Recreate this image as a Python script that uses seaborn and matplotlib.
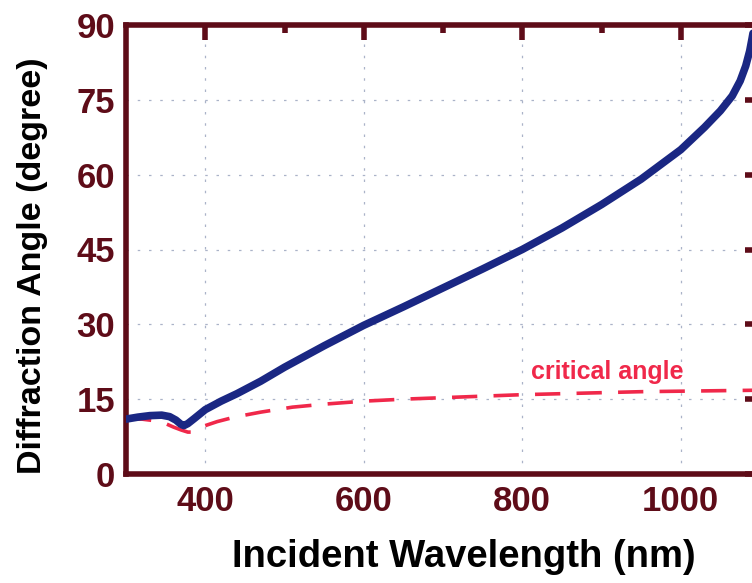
import numpy as np
import pandas as pd
import seaborn as sns
import matplotlib.pyplot as plt

# wavelength (nm) and diffraction angle (degree)
wl_blue = [300, 315, 330, 345, 355, 363, 369, 373, 378, 386, 400, 420, 440, 470, 500, 550,
           600, 650, 700, 750, 800, 850, 900, 950, 1000, 1030, 1050, 1065, 1075, 1082, 1087,
           1090, 1093]
ang_blue = [11.0, 11.4, 11.7, 11.8, 11.5, 10.8, 10.0, 9.7, 10.1, 11.1, 12.9, 14.6, 16.1,
            18.6, 21.4, 25.7, 29.8, 33.5, 37.3, 41.1, 45.0, 49.3, 54.0, 59.1, 65.0, 69.5,
            72.8, 75.8, 78.8, 81.8, 84.8, 87.3, 90.0]

wl_red = [300, 320, 340, 350, 360, 370, 378, 385, 392, 400, 415, 432, 450, 470, 510, 550,
          600, 650, 700, 750, 800, 850, 900, 950, 1000, 1050, 1100]
ang_red = [11.0, 11.0, 10.6, 10.1, 9.4, 8.8, 8.4, 8.4, 8.9, 9.7, 10.5, 11.2, 11.8, 12.4,
           13.4, 14.0, 14.6, 15.0, 15.3, 15.6, 15.9, 16.1, 16.3, 16.5, 16.6, 16.7, 16.8]

x_ticks = [400, 600, 800, 1000]
y_ticks = [0, 15, 30, 45, 60, 75, 90]

maroon = "#5e0c18"
sns.set_style("white")
plt.rcParams['font.family'] = ['Liberation Sans', 'DejaVu Sans']
plt.rcParams['font.weight'] = 'bold'

fig = plt.figure(figsize=(7.52, 5.83), dpi=100)
ax = fig.add_axes([126 / 752, 109 / 583, 634 / 752, 449 / 583])

blue = pd.DataFrame({"wl": wl_blue, "ang": ang_blue})
red = pd.DataFrame({"wl": wl_red, "ang": ang_red})

sns.lineplot(data=red, x="wl", y="ang", ax=ax, color="#f0284a", lw=2.6,
             estimator=None, sort=False, zorder=3)
ax.lines[-1].set_dashes([7, 4.5])
sns.lineplot(data=blue, x="wl", y="ang", ax=ax, color="#1a2783", lw=5.5,
             estimator=None, sort=False, zorder=4)
ax.lines[-1].set_solid_joinstyle("round")
ax.lines[-1].set_solid_capstyle("round")

ax.set_xlim(300, 1100)
ax.set_ylim(0, 90)
ax.set_xticks(x_ticks)
ax.set_yticks(y_ticks)
ax.set_xticks([500, 700, 900], minor=True)
ax.set_yticks([7.5, 22.5, 37.5, 52.5, 67.5, 82.5], minor=True)

ax.grid(True, which="major", color="#aab3c8", linestyle=(0, (2, 7)), linewidth=0.9)

for s in ax.spines.values():
    s.set_color(maroon)
    s.set_linewidth(4)

ax.tick_params(axis="both", which="major", direction="in", length=11, width=4,
               color=maroon, labelcolor=maroon, labelsize=25, pad=8,
               top=True, right=True)
ax.tick_params(axis="both", which="minor", direction="in", length=6, width=4,
               color=maroon, top=True, right=True)
for lab in ax.get_xticklabels() + ax.get_yticklabels():
    lab.set_fontweight("bold")

# label positions given in pixels of the 752x583 picture
ax.set_xlabel("Incident Wavelength (nm)", fontsize=27.5, fontweight="bold", color="black")
ax.xaxis.set_label_coords((464 - 126) / 634, ((583 - 557) - 109) / 449)
ax.xaxis.label.set_va("center")
ax.set_ylabel("Diffraction Angle (degree)", fontsize=24.5, fontweight="bold", color="black")
ax.yaxis.set_label_coords((33 - 126) / 634, ((583 - 266) - 109) / 449)
ax.yaxis.label.set_va("center")

ax.text(811, 20.4, "critical angle", color="#f0284a", fontsize=18,
        fontweight="bold", ha="left", va="center")

fig.savefig("out.png", dpi=100)
